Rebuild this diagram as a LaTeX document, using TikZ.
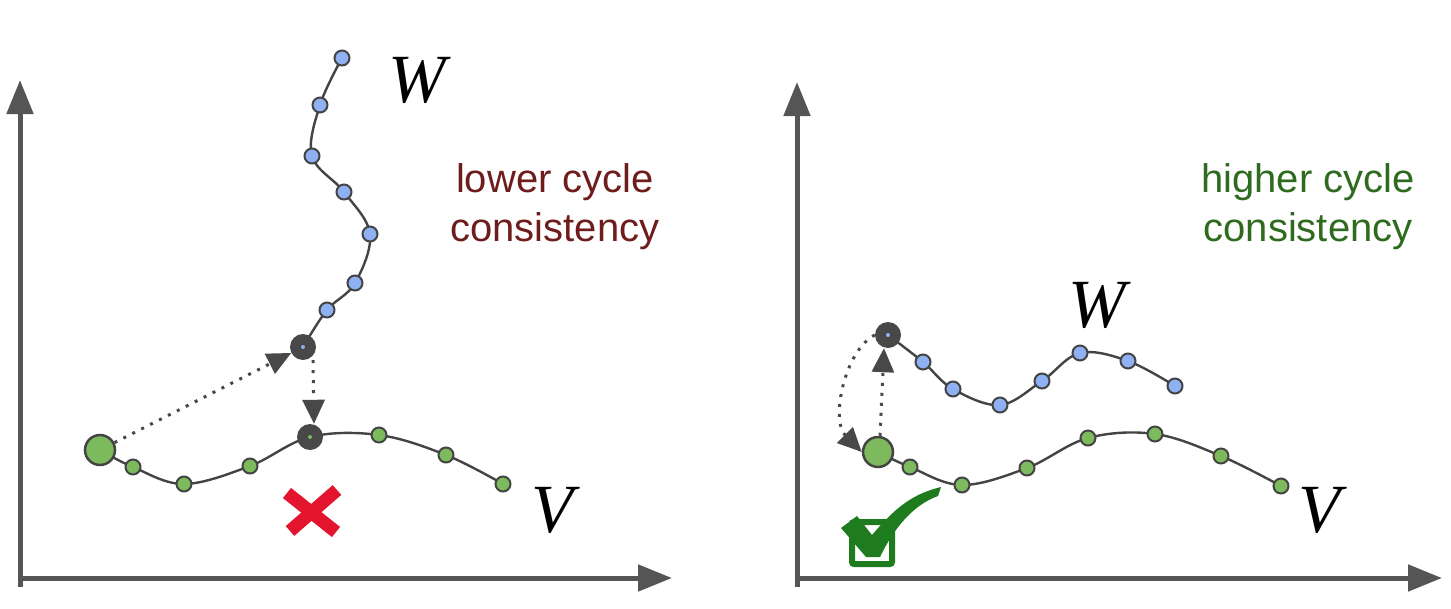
\documentclass[tikz,border=0pt]{standalone}
\usepackage{fontspec}
\setmainfont{Liberation Serif}
\newfontfamily\labfont{Liberation Sans}
\usetikzlibrary{arrows.meta}
\definecolor{axisgray}{HTML}{555555}
\definecolor{edgegray}{HTML}{444444}
\definecolor{bluept}{HTML}{8FB0F2}
\definecolor{greenpt}{HTML}{7DBA5E}
\definecolor{darkpt}{HTML}{484848}
\definecolor{lowred}{HTML}{6E1C1C}
\definecolor{highgreen}{HTML}{2F6B1F}
\definecolor{xred}{HTML}{E2142E}
\definecolor{checkgreen}{HTML}{1E7B1E}
\tikzset{
  axis/.style={draw=axisgray, line width=5pt, -{Triangle[width=26pt,length=34pt]}},
  curve/.style={draw=edgegray, line width=2.4pt},
  bpt/.style={circle, fill=bluept, draw=edgegray, line width=2pt, minimum size=15pt, inner sep=0pt},
  gpt/.style={circle, fill=greenpt, draw=edgegray, line width=2pt, minimum size=15pt, inner sep=0pt},
  bigg/.style={circle, fill=greenpt, draw=edgegray, line width=2.5pt, minimum size=30pt, inner sep=0pt},
  darkb/.style={circle, fill=darkpt, minimum size=26pt, inner sep=0pt, path picture={\fill[bluept] (path picture bounding box.center) circle (2pt);}},
  darkg/.style={circle, fill=darkpt, minimum size=26pt, inner sep=0pt, path picture={\fill[greenpt] (path picture bounding box.center) circle (2pt);}},
  dotarrow/.style={draw=darkpt, line width=3pt, dash pattern=on 3pt off 7pt, -{Triangle[width=22pt,length=24pt]}},
  mathlab/.style={font=\fontsize{69}{72}\selectfont\itshape, inner sep=0pt},
  txtlab/.style={font=\labfont\fontsize{40}{49}\selectfont, align=center, inner sep=0pt},
}
\begin{document}
\begin{tikzpicture}[x=1pt,y=-1pt]
\useasboundingbox (0,0) rectangle (1451,608);
% ---------- left panel ----------
\coordinate (ly) at (20,80);
\coordinate (lx) at (672,578);
\draw[axis] (20,587) -- (ly);
\draw[axis] (18,578) -- (lx);
% W curve points
\coordinate (lw1) at (342,58);
\coordinate (lw2) at (320,105);
\coordinate (lw3) at (312,156);
\coordinate (lw4) at (344,192);
\coordinate (lw5) at (370,234);
\coordinate (lw6) at (355,283);
\coordinate (lw7) at (327,310);
\coordinate (lw8) at (303,347);
% V curve points
\coordinate (lv0) at (100,450);
\coordinate (lv1) at (133,467);
\coordinate (lv2) at (184,484);
\coordinate (lv3) at (250,466);
\coordinate (lv4) at (310,437);
\coordinate (lv5) at (379,435);
\coordinate (lv6) at (446,455);
\coordinate (lv7) at (503,484);
\draw[curve] plot[smooth, tension=0.6] coordinates {(lw1) (lw2) (lw3) (lw4) (lw5) (lw6) (lw7) (lw8)};
\draw[curve] plot[smooth, tension=0.6] coordinates {(lv0) (lv1) (lv2) (lv3) (lv4) (lv5) (lv6) (lv7)};
\foreach \i in {1,...,7} \node[bpt] (LW\i) at (lw\i) {};
\node[darkb] (LWd) at (lw8) {};
\node[bigg] (LV0) at (lv0) {};
\foreach \i in {1,2,3,5,6,7} \node[gpt] (LV\i) at (lv\i) {};
\node[darkg] (LVd) at (lv4) {};
\draw[dotarrow] (LV0) -- (LWd);
\draw[dotarrow] ([xshift=10pt]LWd.south) -- ([xshift=4pt]LVd.north);
% red cross
\draw[xred, line width=13pt] (287,493) -- (336,532);
\draw[xred, line width=13pt] (290,531) -- (337,490);
\node[mathlab] (LWlab) at (417,80) {W};
\node[mathlab] (LVlab) at (553,510) {V};
\node[txtlab, text=lowred] (ltxt) at (555,207) {lower cycle\\consistency};
% ---------- right panel ----------
\coordinate (rly) at (797,82);
\coordinate (rlx) at (1442,578);
\draw[axis] (797,587) -- (rly);
\draw[axis] (795,578) -- (rlx);
\coordinate (rw1) at (888,335);
\coordinate (rw2) at (923,362);
\coordinate (rw3) at (953,389);
\coordinate (rw4) at (1000,405);
\coordinate (rw5) at (1042,381);
\coordinate (rw6) at (1080,353);
\coordinate (rw7) at (1128,361);
\coordinate (rw8) at (1175,386);
\coordinate (rv0) at (878,452);
\coordinate (rv1) at (910,467);
\coordinate (rv2) at (962,485);
\coordinate (rv3) at (1027,468);
\coordinate (rv4) at (1088,438);
\coordinate (rv5) at (1155,434);
\coordinate (rv6) at (1221,456);
\coordinate (rv7) at (1281,486);
\draw[curve] plot[smooth, tension=0.6] coordinates {(rw1) (rw2) (rw3) (rw4) (rw5) (rw6) (rw7) (rw8)};
\draw[curve] plot[smooth, tension=0.6] coordinates {(rv0) (rv1) (rv2) (rv3) (rv4) (rv5) (rv6) (rv7)};
\node[darkb] (RWd) at (rw1) {};
\foreach \i in {2,...,8} \node[bpt] (RW\i) at (rw\i) {};
\node[bigg] (RV0) at (rv0) {};
\foreach \i in {1,...,7} \node[gpt] (RV\i) at (rv\i) {};
\draw[dotarrow] ([xshift=2pt]RV0.north) -- ([xshift=-4pt]RWd.south);
\draw[dotarrow] (RWd.west) .. controls (845,350) and (830,420) .. (RV0.west);
% check box
\draw[checkgreen, line width=6pt, rounded corners=2pt] (852,522) rectangle (892,564);
\fill[checkgreen] (841,528) -- (857,516) -- (872,535) .. controls (895,508) and (912,494) .. (941,487)
  -- (938,496) .. controls (913,505) and (894,528) .. (880,557) -- (866,557) -- cycle;
\node[mathlab] (RWlab) at (1097,305) {W};
\node[mathlab] (RVlab) at (1320,510) {V};
\node[txtlab, text=highgreen] (rtxt) at (1308,207) {higher cycle\\consistency};
\end{tikzpicture}
\end{document}
